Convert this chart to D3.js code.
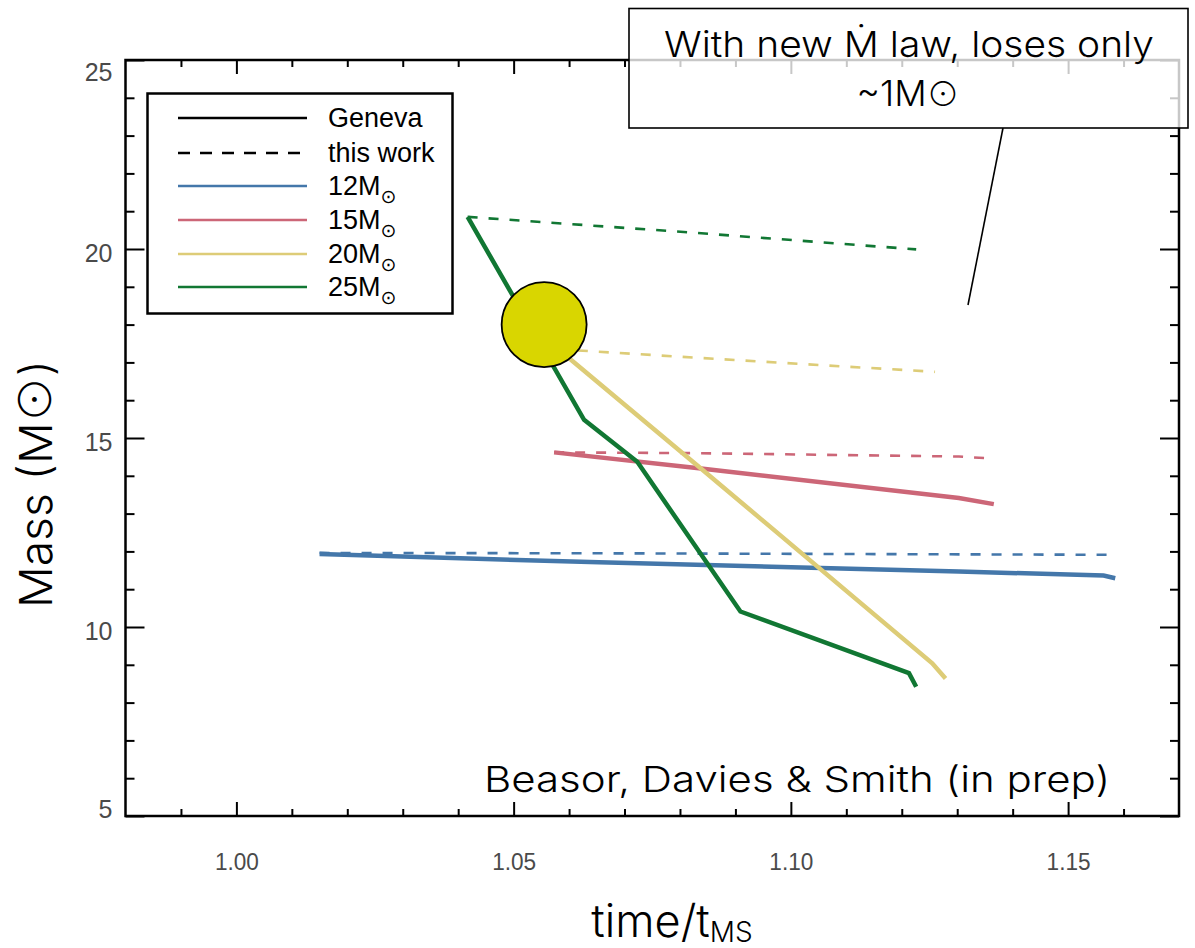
<!DOCTYPE html>
<html>
<head>
<meta charset="utf-8">
<script src="https://cdn.jsdelivr.net/npm/d3@7"></script>
<style>
  html, body { margin: 0; padding: 0; background: #fff; }
  svg { display: block; }
  .tick text { font-family: "Liberation Sans", Arial, sans-serif; fill: #4a4a4a; }
  .light { font-family: Inter, Lato, Roboto, "Liberation Sans", sans-serif; font-weight: 300; fill: #000; }
  .sun { font-family: "Noto Sans CJK SC", "DejaVu Sans", sans-serif; font-weight: 300; }
</style>
</head>
<body>
<svg id="chart" width="1195" height="948"></svg>
<script>
// Mass tracks: [time / t_MS, mass in solar masses]
// Geneva models (solid) and this work (dashed)
const geneva12 = [[1.0150, 11.93], [1.0654, 11.71], [1.1303, 11.47], [1.1564, 11.36], [1.1585, 11.29]];
const thisWork12 = [[1.0150, 11.96], [1.0654, 11.95], [1.1585, 11.91]];
const geneva15 = [[1.0573, 14.62], [1.0834, 14.20], [1.1303, 13.41], [1.1366, 13.25]];
const thisWork15 = [[1.0573, 14.62], [1.0822, 14.60], [1.1303, 14.51], [1.1360, 14.46]];
const geneva20 = [[1.0578, 17.38], [1.0834, 14.24], [1.1255, 9.04], [1.1279, 8.64]];
const thisWork20 = [[1.0578, 17.35], [1.0834, 17.12], [1.1260, 16.75]];
const geneva25 = [[1.0417, 20.85], [1.0627, 15.48], [1.0723, 14.37], [1.0909, 10.41], [1.1213, 8.78], [1.1226, 8.42]];
const thisWork25 = [[1.0417, 20.85], [1.0816, 20.44], [1.1226, 19.99]];

// Highlighted point on the 25 Msun track
const highlightPoint = [1.0555, 18.0];

// Series names and colours (legend order)
const seriesNames = ["12M", "15M", "20M", "25M"];
const seriesColors = ["#4477aa", "#cc6677", "#ddcc77", "#117733"];
const genevaTracks = [geneva12, geneva15, geneva20, geneva25];
const thisWorkTracks = [thisWork12, thisWork15, thisWork20, thisWork25];

// Axis ticks
const massMajorTicks = [5, 10, 15, 20, 25];
const massMinorTicks = [6, 7, 8, 9, 11, 12, 13, 14, 16, 17, 18, 19, 21, 22, 23, 24];
const timeMajorTicks = [1.00, 1.05, 1.10, 1.15];
const timeMinorTicks = [0.99, 1.01, 1.02, 1.03, 1.04, 1.06, 1.07, 1.08, 1.09, 1.11, 1.12, 1.13, 1.14, 1.16];

const svg = d3.select("#chart");
const plotLeft = 125.5, plotRight = 1179, plotTop = 60, plotBottom = 816;

const x = d3.scaleLinear().domain([0.98, 1.17]).range([plotLeft, plotRight]);
const y = d3.scaleLinear().domain([5, 25]).range([plotBottom, plotTop]);

// ---- axes (ticks pointing inward on all four sides) ----
function styleAxis(g) {
  g.select(".domain").remove();
  g.selectAll(".tick line").attr("stroke", "#000").attr("stroke-width", 2);
}

svg.append("g").attr("transform", `translate(${plotLeft},0)`)
  .call(d3.axisLeft(y).tickValues(massMinorTicks).tickSize(-9).tickFormat(""))
  .call(styleAxis);
const yMajor = svg.append("g").attr("transform", `translate(${plotLeft},0)`)
  .call(d3.axisLeft(y).tickValues(massMajorTicks).tickSize(-19).tickPadding(13).tickFormat(d3.format("d")))
  .call(styleAxis);
yMajor.selectAll(".tick text").attr("font-size", 25)
  .attr("dy", d => d === 25 ? "0.82em" : d === 5 ? "0.05em" : "0.5em");

svg.append("g").attr("transform", `translate(${plotRight},0)`)
  .call(d3.axisRight(y).tickValues(massMinorTicks).tickSize(-9).tickFormat(""))
  .call(styleAxis);
svg.append("g").attr("transform", `translate(${plotRight},0)`)
  .call(d3.axisRight(y).tickValues(massMajorTicks).tickSize(-19).tickFormat(""))
  .call(styleAxis);

svg.append("g").attr("transform", `translate(0,${plotBottom})`)
  .call(d3.axisBottom(x).tickValues(timeMinorTicks).tickSize(-7).tickFormat(""))
  .call(styleAxis);
const xMajor = svg.append("g").attr("transform", `translate(0,${plotBottom})`)
  .call(d3.axisBottom(x).tickValues(timeMajorTicks).tickSize(-14).tickPadding(37).tickFormat(d3.format(".2f")))
  .call(styleAxis);
// condensed tick labels
xMajor.selectAll(".tick text").attr("font-size", 24)
  .attr("textLength", 44).attr("lengthAdjust", "spacingAndGlyphs");

svg.append("g").attr("transform", `translate(0,${plotTop})`)
  .call(d3.axisTop(x).tickValues(timeMinorTicks).tickSize(-7).tickFormat(""))
  .call(styleAxis);
svg.append("g").attr("transform", `translate(0,${plotTop})`)
  .call(d3.axisTop(x).tickValues(timeMajorTicks).tickSize(-14).tickFormat(""))
  .call(styleAxis);

// plot frame
svg.append("rect")
  .attr("x", plotLeft).attr("y", plotTop)
  .attr("width", plotRight - plotLeft).attr("height", plotBottom - plotTop)
  .attr("fill", "none").attr("stroke", "#000").attr("stroke-width", 2.5);

// ---- legend ----
const legend = svg.append("g");
legend.append("rect")
  .attr("x", 147.5).attr("y", 93.5).attr("width", 305).attr("height", 220)
  .attr("fill", "#fff").attr("stroke", "#000").attr("stroke-width", 2.5);

const legendRows = [
  { label: "Geneva", color: "#000", dash: null, sub: false },
  { label: "this work", color: "#000", dash: "12,10", sub: false }
].concat(seriesNames.map((n, i) => ({ label: n, color: seriesColors[i], dash: null, sub: true })));
const rowY = [118, 153, 186, 220, 254, 287];

legendRows.forEach((r, i) => {
  legend.append("line")
    .attr("x1", 178).attr("x2", 307).attr("y1", rowY[i]).attr("y2", rowY[i])
    .attr("stroke", r.color).attr("stroke-width", 2.5)
    .attr("stroke-dasharray", r.dash);
  const t = legend.append("text")
    .attr("x", 328).attr("y", rowY[i] + 9)
    .attr("font-family", "'Liberation Sans', Arial, sans-serif")
    .attr("font-size", 27).attr("fill", "#000")
    .text(r.label);
  if (r.sub) {
    t.append("tspan").attr("font-size", 19).attr("dy", 8)
      .attr("font-family", "'DejaVu Sans', sans-serif").text("\u2299");
  }
});

// ---- tracks ----
const line = d3.line().x(d => x(d[0])).y(d => y(d[1]));
const plot = svg.append("g");

thisWorkTracks.forEach((track, i) => {
  plot.append("path").datum(track)
    .attr("d", line)
    .attr("fill", "none")
    .attr("stroke", seriesColors[i])
    .attr("stroke-width", 2.6)
    .attr("stroke-dasharray", "10,11");
});
genevaTracks.forEach((track, i) => {
  plot.append("path").datum(track)
    .attr("d", line)
    .attr("fill", "none")
    .attr("stroke", seriesColors[i])
    .attr("stroke-width", 4.5)
    .attr("stroke-linejoin", "miter");
});

plot.append("circle")
  .attr("cx", x(highlightPoint[0])).attr("cy", y(highlightPoint[1]))
  .attr("r", 42.5)
  .attr("fill", "#d9d600").attr("stroke", "#000").attr("stroke-width", 1.8);

// ---- credit ----
svg.append("text").attr("class", "light")
  .attr("x", 797).attr("y", 792)
  .attr("text-anchor", "middle").attr("font-size", 36)
  .attr("textLength", 626).attr("lengthAdjust", "spacingAndGlyphs")
  .text("Beasor, Davies & Smith (in prep)");

// ---- axis titles ----
const yTitle = svg.append("text").attr("class", "light")
  .attr("transform", "translate(52,484) rotate(-90)")
  .attr("text-anchor", "middle").attr("font-size", 45)
  .attr("textLength", 248).attr("lengthAdjust", "spacingAndGlyphs");
yTitle.append("tspan").text("Mass (M");
yTitle.append("tspan").attr("class", "sun").text("\u2299");
yTitle.append("tspan").text(")");

const xTitle = svg.append("text").attr("class", "light")
  .attr("x", 672).attr("y", 937)
  .attr("text-anchor", "middle").attr("font-size", 45);
xTitle.append("tspan").text("time/t");
xTitle.append("tspan").attr("font-size", 28).attr("dy", 5).text("MS");

// ---- annotation ----
svg.append("line")
  .attr("x1", 1003).attr("y1", 128).attr("x2", 968).attr("y2", 305)
  .attr("stroke", "#000").attr("stroke-width", 1.6);
svg.append("rect")
  .attr("x", 629).attr("y", 8.5).attr("width", 559).attr("height", 119.5)
  .attr("fill", "#fff").attr("fill-opacity", 0.78)
  .attr("stroke", "#000").attr("stroke-width", 1.6);
svg.append("text").attr("class", "light")
  .attr("x", 909).attr("y", 57).attr("text-anchor", "middle").attr("font-size", 36)
  .attr("textLength", 490).attr("lengthAdjust", "spacingAndGlyphs")
  .text("With new \u1E40 law, loses only");
const ann2 = svg.append("text").attr("class", "light")
  .attr("x", 908).attr("y", 106).attr("text-anchor", "middle").attr("font-size", 36);
ann2.append("tspan").text("~1M");
ann2.append("tspan").attr("class", "sun").attr("font-size", 33).text("\u2299");
</script>
</body>
</html>
